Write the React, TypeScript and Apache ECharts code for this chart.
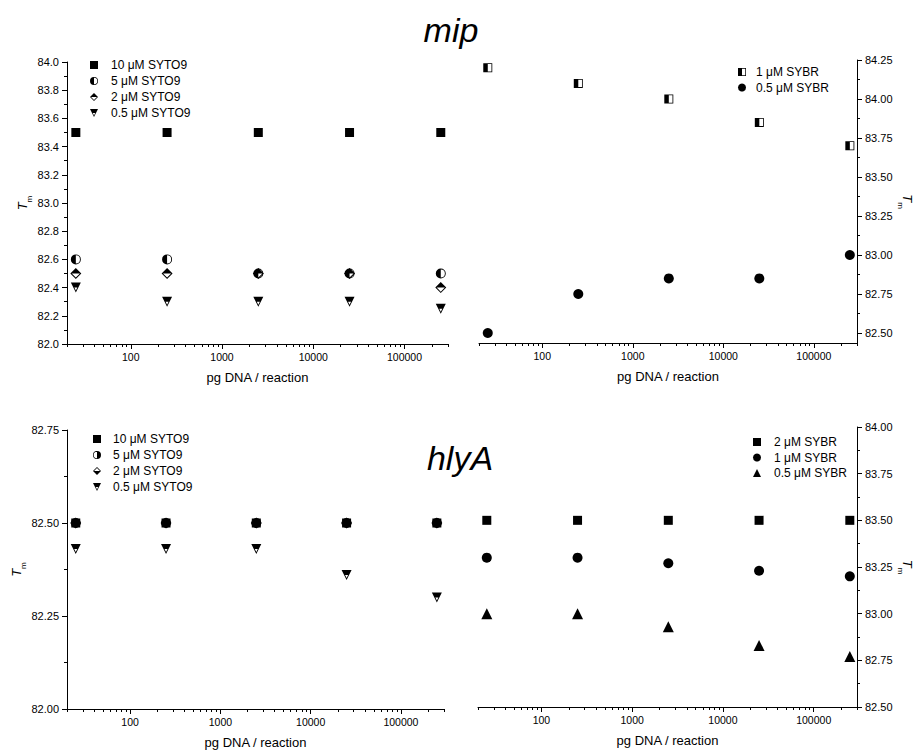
import React, { useEffect, useRef } from 'react';
import * as echarts from 'echarts';

const FONT = 'Liberation Sans, Arial, sans-serif';

// x values: pg DNA / reaction
const xValues = [25, 250, 2500, 25000, 250000];
const xMajorTicks = [100, 1000, 10000, 100000];
const xMinorTicks = [
  20, 30, 40, 50, 60, 70, 80, 90,
  200, 300, 400, 500, 600, 700, 800, 900,
  2000, 3000, 4000, 5000, 6000, 7000, 8000, 9000,
  20000, 30000, 40000, 50000, 60000, 70000, 80000, 90000,
  200000, 300000,
];

// mip — SYTO9 (left top)
const mipSyto10 = [83.5, 83.5, 83.5, 83.5, 83.5];
const mipSyto5 = [82.6, 82.6, 82.5, 82.5, 82.5];
const mipSyto2 = [82.5, 82.5, 82.5, 82.5, 82.4];
const mipSyto05 = [82.4, 82.3, 82.3, 82.3, 82.25];

// mip — SYBR (right top)
const mipSybr1 = [84.2, 84.1, 84.0, 83.85, 83.7];
const mipSybr05 = [82.5, 82.75, 82.85, 82.85, 83.0];
const mipSybrTicks = [82.5, 82.75, 83.0, 83.25, 83.5, 83.75, 84.0, 84.25];
const mipSybrMinorTicks = [82.625, 82.875, 83.125, 83.375, 83.625, 83.875, 84.125];

// hlyA — SYTO9 (left bottom)
const hlySyto10 = [82.5, 82.5, 82.5, 82.5, 82.5];
const hlySyto5 = [82.5, 82.5, 82.5, 82.5, 82.5];
const hlySyto2 = [82.5, 82.5, 82.5, 82.5, 82.5];
const hlySyto05 = [82.43, 82.43, 82.43, 82.36, 82.3];

// hlyA — SYBR (right bottom)
const hlySybr2 = [83.5, 83.5, 83.5, 83.5, 83.5];
const hlySybr1 = [83.3, 83.3, 83.27, 83.23, 83.2];
const hlySybr05 = [83.0, 83.0, 82.93, 82.83, 82.77];

const SYM = {
  circleLeft:
    'path://M10,0A10,10 0 0 0 10,20Z M10,0A10,10 0 0 1 10,20L10,18.2A8.2,8.2 0 0 0 10,1.8Z',
  circleRight:
    'path://M10,0A10,10 0 0 1 10,20Z M10,0A10,10 0 0 0 10,20L10,18.2A8.2,8.2 0 0 1 10,1.8Z',
  diamondTop:
    'path://M0,10L10,0L20,10Z M0,10L10,20L20,10L17.4,10L10,17.4L2.6,10Z',
  diamondBottom:
    'path://M0,10L10,20L20,10Z M0,10L10,0L20,10L17.4,10L10,2.6L2.6,10Z',
  triDownTop:
    'path://M0,0L20,0L15,10L5,10Z M5,10L10,20L15,10L13,10L10,16L7,10Z',
  squareLeft:
    'path://M0,0L10,0L10,20L0,20Z M10,0L20,0L20,20L10,20L10,18.2L18.2,18.2L18.2,1.8L10,1.8Z',
};

const pts = (ys: number[]) => xValues.map((x, i) => [x, ys[i]]);

const grids = [
  { left: 67, top: 62, width: 381, height: 282 },
  { left: 479, top: 60, width: 378, height: 283 },
  { left: 67, top: 430, width: 377, height: 279 },
  { left: 478, top: 427, width: 379, height: 280 },
];

const black = '#000';

function mainX(gridIndex: number) {
  return {
    type: 'log',
    logBase: 10,
    gridIndex,
    min: 20,
    max: 300000,
    position: 'bottom',
    name: 'pg DNA / reaction',
    nameLocation: 'middle',
    nameGap: 27,
    nameTextStyle: { fontSize: 13, color: black, fontFamily: FONT },
    axisLine: { show: true, lineStyle: { color: black, width: 1 } },
    axisTick: { show: true, length: 5, customValues: xMajorTicks, lineStyle: { color: black } },
    axisLabel: {
      customValues: xMajorTicks,
      fontSize: 10.5,
      color: black,
      fontFamily: FONT,
      margin: 7,
      formatter: (v: number) => String(Math.round(v)),
    },
    splitLine: { show: false },
  };
}

function minorX(gridIndex: number) {
  return {
    type: 'log',
    logBase: 10,
    gridIndex,
    min: 20,
    max: 300000,
    position: 'bottom',
    axisLine: { show: false },
    axisTick: { show: true, length: 3, customValues: xMinorTicks, lineStyle: { color: black } },
    axisLabel: { show: false },
    splitLine: { show: false },
  };
}

const tmName = '{t|T}{m|m}';
const tmRich = {
  t: { fontStyle: 'italic', fontSize: 13, fontFamily: FONT, color: black, verticalAlign: 'middle', lineHeight: 16 },
  m: { fontSize: 8, fontFamily: FONT, color: black, verticalAlign: 'bottom', lineHeight: 16, padding: [0, 0, -3, 0] },
};

export default function App() {
  const ref = useRef<HTMLDivElement>(null);

  useEffect(() => {
    if (!ref.current) return;
    const chart = echarts.init(ref.current, undefined, { renderer: 'svg' });

    const yBase = {
      axisLine: { show: true, lineStyle: { color: black, width: 1 } },
      splitLine: { show: false },
      nameLocation: 'middle',
      name: tmName,
      nameTextStyle: { rich: tmRich },
    };

    const option: any = {
      animation: false,
      backgroundColor: '#fff',
      textStyle: { fontFamily: FONT },
      grid: grids.map((g) => ({ ...g, containLabel: false, outerBoundsMode: 'none' })),
      xAxis: [mainX(0), minorX(0), mainX(1), minorX(1), mainX(2), minorX(2), mainX(3), minorX(3)],
      yAxis: [
        {
          ...yBase,
          type: 'value',
          gridIndex: 0,
          position: 'left',
          min: 82,
          max: 84,
          interval: 0.2,
          nameGap: 37,
          axisTick: { show: true, length: 5, lineStyle: { color: black } },
          minorTick: { show: true, splitNumber: 2, length: 3, lineStyle: { color: black } },
          axisLabel: { fontSize: 11, color: black, fontFamily: FONT, formatter: (v: number) => v.toFixed(1) },
        },
        {
          ...yBase,
          type: 'value',
          gridIndex: 1,
          position: 'right',
          min: 82.436,
          max: 84.25,
          nameGap: 41,
          nameRotate: -90,
          axisTick: { show: true, length: 5, customValues: mipSybrTicks, lineStyle: { color: black } },
          axisLabel: {
            customValues: mipSybrTicks,
            fontSize: 11,
            color: black,
            fontFamily: FONT,
            formatter: (v: number) => v.toFixed(2),
          },
        },
        {
          ...yBase,
          type: 'value',
          gridIndex: 2,
          position: 'left',
          min: 82,
          max: 82.75,
          interval: 0.25,
          nameGap: 37,
          axisTick: { show: true, length: 5, lineStyle: { color: black } },
          minorTick: { show: true, splitNumber: 2, length: 3, lineStyle: { color: black } },
          axisLabel: { fontSize: 11, color: black, fontFamily: FONT, formatter: (v: number) => v.toFixed(2) },
        },
        {
          ...yBase,
          type: 'value',
          gridIndex: 3,
          position: 'right',
          min: 82.5,
          max: 84,
          interval: 0.25,
          nameGap: 41,
          nameRotate: -90,
          axisTick: { show: true, length: 5, lineStyle: { color: black } },
          minorTick: { show: true, splitNumber: 2, length: 3, lineStyle: { color: black } },
          axisLabel: { fontSize: 11, color: black, fontFamily: FONT, formatter: (v: number) => v.toFixed(2) },
        },
        {
          type: 'value',
          gridIndex: 1,
          position: 'right',
          min: 82.436,
          max: 84.25,
          axisLine: { show: false },
          splitLine: { show: false },
          axisTick: { show: true, length: 3, customValues: mipSybrMinorTicks, lineStyle: { color: black } },
          axisLabel: { show: false },
        },
      ],
      legend: [
        {
          left: 90, top: 58, orient: 'vertical', padding: 0, itemWidth: 8, itemHeight: 8, itemGap: 2,
          selectedMode: false,
          textStyle: { fontSize: 12, lineHeight: 14, color: black, fontFamily: FONT, padding: [0, 0, 0, 8] },
          data: [
            { name: '10 μM SYTO9', icon: 'rect' },
            { name: '5 μM SYTO9', icon: SYM.circleLeft },
            { name: '2 μM SYTO9', icon: SYM.diamondTop },
            { name: '0.5 μM SYTO9', icon: SYM.triDownTop },
          ],
        },
        {
          left: 738, top: 65, orient: 'vertical', padding: 0, itemWidth: 8, itemHeight: 8, itemGap: 1.5,
          selectedMode: false,
          textStyle: { fontSize: 12, lineHeight: 14, color: black, fontFamily: FONT, padding: [0, 0, 0, 5] },
          data: [
            { name: '1 μM SYBR', icon: SYM.squareLeft },
            { name: '0.5 μM SYBR', icon: 'circle' },
          ],
        },
        {
          left: 93, top: 432, orient: 'vertical', padding: 0, itemWidth: 8, itemHeight: 8, itemGap: 2,
          selectedMode: false,
          textStyle: { fontSize: 12, lineHeight: 14, color: black, fontFamily: FONT, padding: [0, 0, 0, 7] },
          data: [
            { name: '10 μM SYTO9', icon: 'rect' },
            { name: '5 μM SYTO9', icon: SYM.circleRight },
            { name: '2 μM SYTO9', icon: SYM.diamondBottom },
            { name: '0.5 μM SYTO9', icon: SYM.triDownTop },
          ],
        },
        {
          left: 753, top: 435, orient: 'vertical', padding: 0, itemWidth: 8, itemHeight: 8, itemGap: 1.5,
          selectedMode: false,
          textStyle: { fontSize: 12, lineHeight: 14, color: black, fontFamily: FONT, padding: [0, 0, 0, 8] },
          data: [
            { name: '2 μM SYBR', icon: 'rect' },
            { name: '1 μM SYBR ', icon: 'circle' },
            { name: '0.5 μM SYBR ', icon: 'triangle' },
          ],
        },
      ],
      graphic: [
        {
          type: 'text', x: 451, y: 30,
          style: { text: 'mip', font: 'italic 34px Liberation Sans, Arial, sans-serif', fill: black, textAlign: 'center', textVerticalAlign: 'middle' },
        },
        {
          type: 'text', x: 460, y: 458,
          style: { text: 'hlyA', font: 'italic 34px Liberation Sans, Arial, sans-serif', fill: black, textAlign: 'center', textVerticalAlign: 'middle' },
        },
      ],
      series: [
        // mip SYTO9
        { type: 'scatter', name: '10 μM SYTO9', xAxisIndex: 0, yAxisIndex: 0, symbol: 'rect', symbolSize: 9, data: pts(mipSyto10) },
        { type: 'scatter', name: '5 μM SYTO9', xAxisIndex: 0, yAxisIndex: 0, symbol: SYM.circleLeft, symbolSize: 10, data: pts(mipSyto5) },
        { type: 'scatter', name: '2 μM SYTO9', xAxisIndex: 0, yAxisIndex: 0, symbol: SYM.diamondTop, symbolSize: 11, data: pts(mipSyto2) },
        { type: 'scatter', name: '0.5 μM SYTO9', xAxisIndex: 0, yAxisIndex: 0, symbol: SYM.triDownTop, symbolSize: 10, data: pts(mipSyto05) },
        // mip SYBR
        { type: 'scatter', name: '1 μM SYBR', xAxisIndex: 2, yAxisIndex: 1, symbol: SYM.squareLeft, symbolSize: 9, data: pts(mipSybr1) },
        { type: 'scatter', name: '0.5 μM SYBR', xAxisIndex: 2, yAxisIndex: 1, symbol: 'circle', symbolSize: 10, data: pts(mipSybr05) },
        // hlyA SYTO9
        { type: 'scatter', name: '10 μM SYTO9', xAxisIndex: 4, yAxisIndex: 2, symbol: 'rect', symbolSize: 9, data: pts(hlySyto10) },
        { type: 'scatter', name: '5 μM SYTO9', xAxisIndex: 4, yAxisIndex: 2, symbol: SYM.circleRight, symbolSize: 10, data: pts(hlySyto5) },
        { type: 'scatter', name: '2 μM SYTO9', xAxisIndex: 4, yAxisIndex: 2, symbol: SYM.diamondBottom, symbolSize: 11, data: pts(hlySyto2) },
        { type: 'scatter', name: '0.5 μM SYTO9', xAxisIndex: 4, yAxisIndex: 2, symbol: SYM.triDownTop, symbolSize: 10, data: pts(hlySyto05) },
        // hlyA SYBR
        { type: 'scatter', name: '2 μM SYBR', xAxisIndex: 6, yAxisIndex: 3, symbol: 'rect', symbolSize: 9, data: pts(hlySybr2) },
        { type: 'scatter', name: '1 μM SYBR ', xAxisIndex: 6, yAxisIndex: 3, symbol: 'circle', symbolSize: 10, data: pts(hlySybr1) },
        { type: 'scatter', name: '0.5 μM SYBR ', xAxisIndex: 6, yAxisIndex: 3, symbol: 'triangle', symbolSize: 11, data: pts(hlySybr05) },
      ].map((s) => ({ ...s, itemStyle: { color: black, borderWidth: 0, opacity: 1 }, emphasis: { disabled: true } })),
    };

    chart.setOption(option);
    return () => chart.dispose();
  }, []);

  return (
    <div
      ref={ref}
      style={{ position: 'fixed', left: 0, top: 0, width: 915, height: 753, background: '#fff' }}
    />
  );
}
